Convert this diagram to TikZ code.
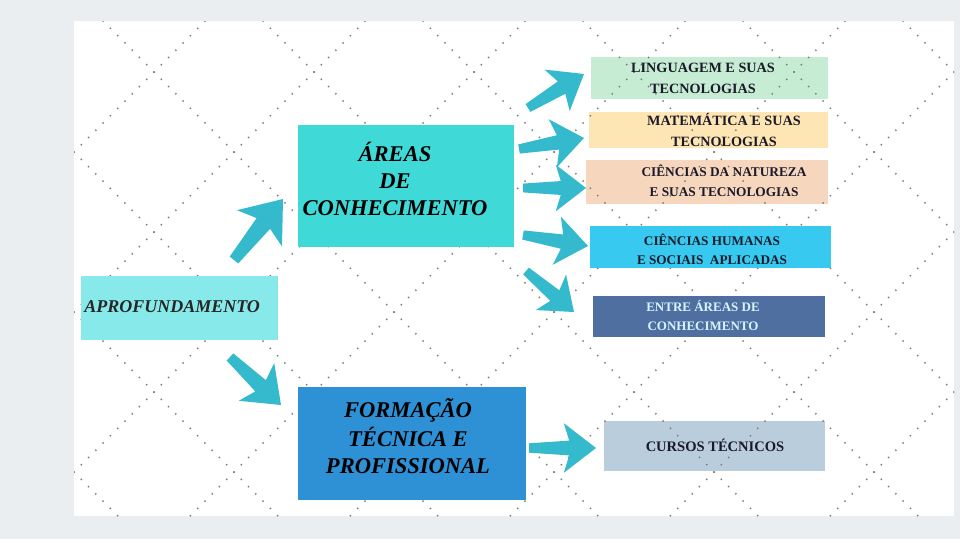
\documentclass[tikz,border=0pt]{standalone}
\usepackage{fontspec}
\setmainfont{Liberation Serif}
\usetikzlibrary{calc,fit}
\definecolor{bgc}{HTML}{EBEEF1}
\definecolor{dotc}{HTML}{7A7A7A}
\definecolor{arrowc}{HTML}{34BACC}
\definecolor{aprofc}{HTML}{87E9E9}
\definecolor{areasc}{HTML}{3FDAD8}
\definecolor{formc}{HTML}{2E91D5}
\definecolor{lingc}{HTML}{C6ECD3}
\definecolor{matc}{HTML}{FEE6B4}
\definecolor{natc}{HTML}{F6D7BE}
\definecolor{humc}{HTML}{38C9F0}
\definecolor{entrec}{HTML}{4F6FA1}
\definecolor{cursosc}{HTML}{B9CDDD}
\definecolor{txtc}{HTML}{1A1A28}
\definecolor{entretxt}{HTML}{D6F4FF}

\newcommand\swoosh[2]{%
  \fill[arrowc] let \p1=(#1), \p2=(#2),
    \n1={atan2(\y2-\y1,\x2-\x1)},
    \n2={veclen(\x2-\x1,\y2-\y1)} in
    ($(\p1)+({\n1+90}:{0.07*\n2*1pt})$)
    -- ($(\p1)+({\n1}:{0.6*\n2*1pt})+({\n1+90}:{0.11*\n2*1pt})$)
    -- ($(\p1)+({\n1}:{0.52*\n2*1pt})+({\n1+90}:{0.37*\n2*1pt})$)
    -- (\p2)
    -- ($(\p1)+({\n1}:{0.52*\n2*1pt})+({\n1-90}:{0.37*\n2*1pt})$)
    -- ($(\p1)+({\n1}:{0.6*\n2*1pt})+({\n1-90}:{0.11*\n2*1pt})$)
    -- ($(\p1)+({\n1-90}:{0.07*\n2*1pt})$) -- cycle;%
}

\begin{document}
\begin{tikzpicture}[x=0.75pt,y=-0.75pt,
  box/.style={rectangle,inner sep=0pt,outer sep=0pt,draw=none},
  dotline/.style={draw=dotc,line width=1.5pt,line cap=round,dash pattern=on 0pt off 7.714pt},
  bigtxt/.style={font=\fontsize{16.9pt}{20.3pt}\selectfont\bfseries\itshape,align=center,inner sep=0pt,text=black},
  smalltxt/.style={align=center,inner sep=0pt,text=txtc}]
\useasboundingbox (0,0) rectangle (960,539);
\fill[bgc] (0,0) rectangle (960,539);
\fill[white] (74,21) rectangle (954,516);

% light boxes (dots show through them)
\node[box,fill=lingc,fit={(591,57) (828,99)}] (ling) {};
\node[box,fill=matc,fit={(589,112) (828,148)}] (mat) {};
\node[box,fill=natc,fit={(586,160) (828,204)}] (nat) {};
\node[box,fill=cursosc,fit={(604,421) (825,471)}] (cursos) {};

% dotted diamond lattice
\begin{scope}
\clip (74,21) rectangle (954,516);
\foreach \c in {226,386,...,1346} \draw[dotline] (\c+8,-8) -- (\c-552,552);
\foreach \c in {-398,-238,...,882} \draw[dotline] (\c-8,-8) -- (\c+552,552);
\end{scope}

% opaque boxes
\node[box,fill=aprofc,fit={(81,276) (278,340)}] (aprof) {};
\node[box,fill=areasc,fit={(298,125) (514,247)}] (areas) {};
\node[box,fill=formc,fit={(298,387) (526,500)}] (form) {};
\node[box,fill=humc,fit={(590,226) (831,268)}] (hum) {};
\node[box,fill=entrec,fit={(593,296) (825,337)}] (entre) {};

% texts
\node[anchor=west,inner sep=0pt,text=black!85,font=\fontsize{13.5pt}{16.2pt}\selectfont\bfseries\itshape] (aprofT) at (84,308.5) {\strut APROFUNDAMENTO};
\node[bigtxt] (areasT) at (395,183) {\strut ÁREAS\\\strut DE\\\strut CONHECIMENTO};
\node[bigtxt] (formT) at (408,440) {\strut FORMAÇÃO\\\strut TÉCNICA E\\\strut PROFISSIONAL};
\node[smalltxt,font=\fontsize{10.65pt}{15.75pt}\selectfont\bfseries] (lingT) at (703,79) {\strut LINGUAGEM E SUAS\\\strut TECNOLOGIAS};
\node[smalltxt,font=\fontsize{10.65pt}{15.75pt}\selectfont\bfseries] (matT) at (724,131.5) {\strut MATEMÁTICA E SUAS\\\strut TECNOLOGIAS};
\node[smalltxt,font=\fontsize{10pt}{15pt}\selectfont\bfseries] (natT) at (724,182) {\strut CIÊNCIAS DA NATUREZA\\\strut E SUAS TECNOLOGIAS};
\node[smalltxt,font=\fontsize{9.9pt}{14.25pt}\selectfont\bfseries] (humT) at (712,251.5) {\strut CIÊNCIAS HUMANAS\\\strut E SOCIAIS\ \ APLICADAS};
\node[smalltxt,text=entretxt,font=\fontsize{9.75pt}{14.25pt}\selectfont\bfseries] (entreT) at (703,317.5) {\strut ENTRE ÁREAS DE\\\strut CONHECIMENTO};
\node[smalltxt,font=\fontsize{10.9pt}{15pt}\selectfont\bfseries] (cursosT) at (715,447.5) {\strut CURSOS TÉCNICOS};

% arrow end points, tied to the nodes
\coordinate (a1s) at ($(aprof.north)+(54.5,-16)$);
\coordinate (a1e) at ($(areas.west)+(-15,13)$);
\coordinate (a2s) at ($(aprof.south)+(50.5,17)$);
\coordinate (a2e) at ($(form.north west)+(-17,18)$);
\coordinate (a3s) at ($(form.east)+(3,4.5)$);
\coordinate (a3e) at ($(cursos.west)+(-8,2)$);
\coordinate (a4s) at ($(areas.north east)+(14,-17)$);
\coordinate (a4e) at ($(ling.west)+(-7,-4)$);
\coordinate (a5s) at ($(areas.north east)+(5,24)$);
\coordinate (a5e) at ($(mat.west)+(-5,8)$);
\coordinate (a6s) at ($(areas.east)+(9,2)$);
\coordinate (a6e) at ($(nat.west)+(0,6)$);
\coordinate (a7s) at ($(areas.south east)+(9,-12)$);
\coordinate (a7e) at ($(hum.west)+(-2,-1)$);
\coordinate (a8s) at ($(areas.south east)+(12,24)$);
\coordinate (a8e) at ($(entre.west)+(-19,-4.5)$);

\swoosh{a1s}{a1e}
\swoosh{a2s}{a2e}
\swoosh{a3s}{a3e}
\swoosh{a4s}{a4e}
\swoosh{a5s}{a5e}
\swoosh{a6s}{a6e}
\swoosh{a7s}{a7e}
\swoosh{a8s}{a8e}
\end{tikzpicture}
\end{document}
